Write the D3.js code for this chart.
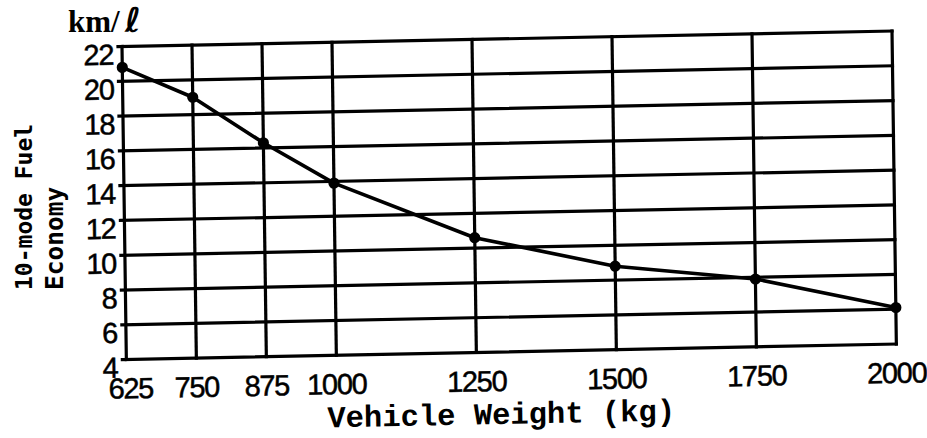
<!DOCTYPE html>
<html>
<head>
<meta charset="utf-8">
<script src="https://cdn.jsdelivr.net/npm/d3@7"></script>
<style>
  html, body { margin: 0; padding: 0; background: #fff; }
  svg { display: block; }
</style>
</head>
<body>
<script>
// ---- data ----
const weights = [625, 750, 875, 1000, 1250, 1500, 1750, 2000];       // kg
const economy = [20.8, 19.0, 16.3, 13.9, 10.6, 8.8, 7.9, 6.1];       // km/l
const xTickValues = [625, 750, 875, 1000, 1250, 1500, 1750, 2000];
const yTickValues = [4, 6, 8, 10, 12, 14, 16, 18, 20, 22];
const xTitle = "Vehicle Weight (kg)";
const yTitleLines = ["10-mode Fuel", "Economy"];
const unitLabel = "km/";
const unitScript = "\u2113";

// ---- layout ----
const width = 927, height = 438;
const W = 770, H = 313;
const ink = "#000";

const svg = d3.select("body").append("svg")
  .attr("width", width).attr("height", height)
  .style("background", "#fff");

const x = d3.scaleLinear().domain([625, 2000]).range([0, W]);
const y = d3.scaleLinear().domain([4, 22]).range([H, 0]);

// the scanned figure is slightly rotated: map plot frame with a small affine transform
const g = svg.append("g")
  .attr("transform", "matrix(1,-0.0201,0.0139,1,122,46.5)");

// horizontal grid lines
g.selectAll("line.h").data(yTickValues).join("line")
  .attr("class", "h")
  .attr("x1", -4).attr("x2", W)
  .attr("y1", d => y(d)).attr("y2", d => y(d))
  .attr("stroke", ink).attr("stroke-width", 3.2).attr("stroke-linecap", "square");

// vertical grid lines
g.selectAll("line.v").data(xTickValues).join("line")
  .attr("class", "v")
  .attr("x1", d => x(d)).attr("x2", d => x(d))
  .attr("y1", 0).attr("y2", H)
  .attr("stroke", ink).attr("stroke-width", 3.2).attr("stroke-linecap", "square");

// data line
const pts = d3.zip(weights, economy);
g.append("path").datum(pts)
  .attr("d", d3.line().x(d => x(d[0])).y(d => y(d[1])))
  .attr("fill", "none").attr("stroke", ink)
  .attr("stroke-width", 3.6).attr("stroke-linejoin", "round");

g.selectAll("circle.pt").data(pts).join("circle")
  .attr("class", "pt")
  .attr("cx", d => x(d[0])).attr("cy", d => y(d[1]))
  .attr("r", 5.6).attr("fill", ink);

const tickFont = "'Liberation Sans', Arial, sans-serif";

// y tick labels
g.selectAll("text.yt").data(yTickValues).join("text")
  .attr("class", "yt")
  .attr("x", -9).attr("y", d => y(d) + 8)
  .attr("text-anchor", "end").attr("dominant-baseline", "central")
  .attr("font-family", tickFont)
  .attr("font-size", 29).attr("letter-spacing", -1.3)
  .attr("fill", ink).attr("stroke", ink).attr("stroke-width", 0.5)
  .text(d => d);

// x tick labels
g.selectAll("text.xt").data(xTickValues).join("text")
  .attr("class", "xt")
  .attr("x", d => x(d) + (d === 625 ? 4 : 0)).attr("y", H + 29)
  .attr("text-anchor", "middle").attr("dominant-baseline", "central")
  .attr("font-family", tickFont)
  .attr("font-size", 29).attr("letter-spacing", -1.3)
  .attr("fill", ink).attr("stroke", ink).attr("stroke-width", 0.5)
  .text(d => d);

// x title
g.append("text")
  .attr("x", 374).attr("y", 385)
  .attr("text-anchor", "middle")
  .attr("font-family", "'Liberation Mono', 'Courier New', monospace")
  .attr("font-weight", "bold")
  .attr("font-size", 30.5).attr("fill", ink)
  .text(xTitle);

// y title (rotated, two lines)
const yTitleX = [32, 63];
const yTitleSize = [23, 24.5];
yTitleLines.forEach((t, i) => {
  svg.append("text")
    .attr("transform", `translate(${yTitleX[i]},290) rotate(-90)`)
    .attr("text-anchor", "start")
    .attr("font-family", "'DejaVu Sans Mono', monospace")
    .attr("font-weight", "bold")
    .attr("font-size", yTitleSize[i]).attr("fill", ink)
    .text(t);
});

// unit label
const unit = svg.append("text")
  .attr("x", 68).attr("y", 32)
  .attr("font-family", "'Liberation Serif', 'Times New Roman', serif")
  .attr("font-weight", "bold")
  .attr("font-size", 31).attr("fill", ink);
unit.append("tspan").text(unitLabel);
unit.append("tspan").attr("dx", 5)
  .attr("font-family", "'DejaVu Sans', sans-serif")
  .attr("font-weight", "bold")
  .attr("font-size", 34)
  .text(unitScript);
</script>
</body>
</html>
